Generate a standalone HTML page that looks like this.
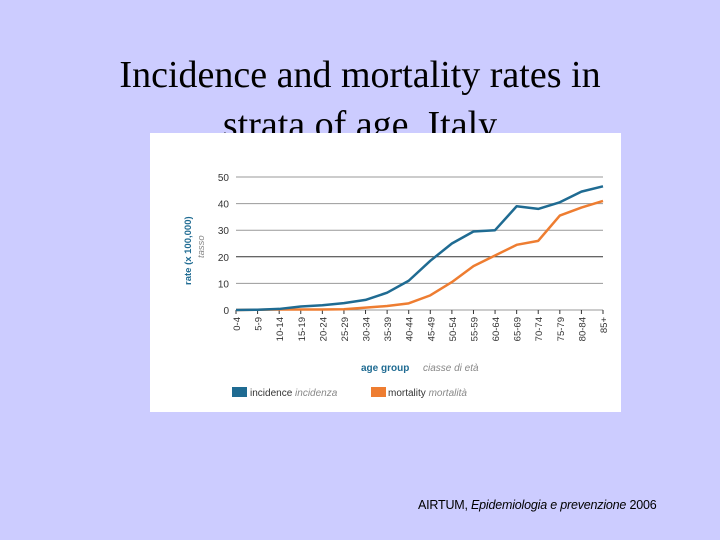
<!DOCTYPE html>
<html><head><meta charset="utf-8"><style>
body{margin:0;width:720px;height:540px;background:#ccccff;position:relative;overflow:hidden;font-family:"Liberation Sans",sans-serif}
#title{position:absolute;left:0;top:50px;width:720px;text-align:center;font-family:"Liberation Serif",serif;font-size:38px;line-height:50px;color:#000}
#chart{position:absolute;left:150px;top:133px;width:471px;height:279px;background:#fff}
#foot{position:absolute;left:418px;top:498px;font-size:12.5px;letter-spacing:-0.2px;color:#000}
</style></head><body>
<div id="title">Incidence and mortality rates in<br>strata of age, Italy</div>
<svg id="chart" width="471" height="279" viewBox="150 133 471 279"></svg>
<div id="foot">AIRTUM, <i>Epidemiologia e prevenzione</i> 2006</div>
<script>
const categories=["0-4","5-9","10-14","15-19","20-24","25-29","30-34","35-39","40-44","45-49","50-54","55-59","60-64","65-69","70-74","75-79","80-84","85+"];
const incidence=[0,0.1,0.4,1.3,1.8,2.6,3.8,6.5,11,18.5,25,29.5,30,39,38,40.5,44.5,46.5];
const mortality=[0,0.1,0.2,0.2,0.2,0.3,0.9,1.5,2.5,5.5,10.5,16.5,20.5,24.5,26,35.5,38.5,41];
const yTicks=[0,10,20,30,40,50];
const NS="http://www.w3.org/2000/svg";
const svg=document.getElementById("chart");
const x0=236,x1=603,y0=310,y1=177;
const xs=i=>x0+(x1-x0)*i/(categories.length-1);
const ys=v=>y0-(y0-y1)*v/50;
function mk(t,a){const e=document.createElementNS(NS,t);for(const k in a)e.setAttribute(k,a[k]);svg.appendChild(e);return e;}
yTicks.forEach(v=>{
 const l=mk("line",{x1:x0,x2:x1,y1:ys(v),y2:ys(v),stroke:v==20?"#333":"#999","stroke-width":1});
 
 
 const t=mk("text",{x:x0-7,y:ys(v)+4,"text-anchor":"end","font-size":10,fill:"#333"});t.textContent=v;
 
 
});
categories.forEach((c,i)=>{
 mk("line",{x1:xs(i),x2:xs(i),y1:y0,y2:y0+4,stroke:"#333"});
 const t=mk("text",{transform:`translate(${xs(i)+4},${y0+7}) rotate(-90)`,"text-anchor":"end","font-size":9.5,fill:"#333"});t.textContent=c;
 
 
});
function series(d,col,name){
 const p=mk("polyline",{points:d.map((v,i)=>xs(i)+","+ys(v)).join(" "),fill:"none",stroke:col,"stroke-width":2.5,"stroke-linejoin":"round"});
 
 
}
series(mortality,"#ee7d31","mortality-line");
series(incidence,"#1f6b92","incidence-line");
let t=mk("text",{transform:"translate(191,285) rotate(-90)","font-size":9.5,"font-weight":"bold",fill:"#1f6b92"});t.textContent="rate (x 100,000)";


t=mk("text",{transform:"translate(204,258) rotate(-90)","font-size":9.5,"font-style":"italic",fill:"#888"});t.textContent="tasso";


t=mk("text",{x:361,y:371,"font-size":10,"font-weight":"bold",fill:"#1f6b92"});t.textContent="age group";


t=mk("text",{x:423,y:371,"font-size":10,"font-style":"italic",fill:"#888"});t.textContent="ciasse di età";


let r=mk("rect",{x:232,y:387,width:15,height:10,fill:"#1f6b92"});


t=mk("text",{x:250,y:396,"font-size":10,fill:"#333"});t.innerHTML='incidence <tspan font-style="italic" fill="#888">incidenza</tspan>';


r=mk("rect",{x:371,y:387,width:15,height:10,fill:"#ee7d31"});


t=mk("text",{x:388,y:396,"font-size":10,fill:"#333"});t.innerHTML='mortality <tspan font-style="italic" fill="#888">mortalità</tspan>';


</script>
</body></html>
